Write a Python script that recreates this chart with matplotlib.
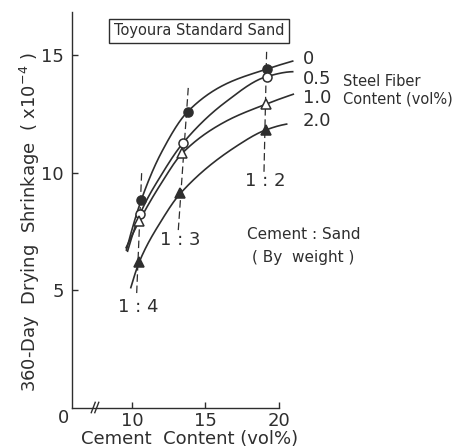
import numpy as np
import matplotlib
matplotlib.use("Agg")
import matplotlib.pyplot as plt

# ---- data ----
fiber_labels = ["0", "0.5", "1.0", "2.0"]
cement_0 = [10.63, 13.79, 19.16]
shrink_0 = [8.83, 12.59, 14.40]
cement_05 = [10.54, 13.49, 19.16]
shrink_05 = [8.22, 11.27, 14.08]
cement_10 = [10.50, 13.42, 19.12]
shrink_10 = [7.94, 10.82, 12.91]
cement_20 = [10.50, 13.29, 19.10]
shrink_20 = [6.20, 9.11, 11.81]

# hand-drawn trend curves (anchor points)
curve_x_0 = [9.62, 10.63, 12.00, 13.79, 16.33, 19.16, 20.93]
curve_y_0 = [6.70, 8.83, 10.85, 12.59, 13.75, 14.40, 14.74]
curve_x_05 = [9.70, 10.54, 12.00, 13.49, 16.33, 19.16, 20.93]
curve_y_05 = [6.65, 8.22, 9.90, 11.27, 12.98, 14.08, 14.29]
curve_x_10 = [9.60, 10.50, 12.00, 13.42, 16.33, 19.12, 20.97]
curve_y_10 = [6.80, 7.94, 9.55, 10.82, 12.16, 12.91, 13.33]
curve_x_20 = [9.92, 10.50, 12.00, 13.29, 17.23, 19.10, 20.52]
curve_y_20 = [5.10, 6.20, 7.95, 9.11, 11.17, 11.81, 12.06]

ratio_labels = ["1 : 4", "1 : 3", "1 : 2"]
ratio_x_top = [10.66, 13.83, 19.16]
ratio_y_top = [10.03, 13.62, 15.24]
ratio_x_bot = [10.32, 13.15, 18.98]
ratio_y_bot = [4.87, 7.55, 10.03]
ratio_label_x = [10.45, 13.25, 19.06]
ratio_label_y = [4.28, 7.13, 9.64]

x_ticks = [10, 15, 20]
y_ticks = [5, 10, 15]


def pchip(xs, ys, n=400):
    """Monotone cubic Hermite curve through the anchor points (Fritsch-Carlson)."""
    x = np.asarray(xs, float)
    y = np.asarray(ys, float)
    h = np.diff(x)
    d = np.diff(y) / h
    m = len(x)
    t = np.zeros(m)
    for k in range(1, m - 1):
        if d[k - 1] * d[k] <= 0:
            t[k] = 0
        else:
            w1 = 2 * h[k] + h[k - 1]
            w2 = h[k] + 2 * h[k - 1]
            t[k] = (w1 + w2) / (w1 / d[k - 1] + w2 / d[k])

    def end(h0, h1, d0, d1):
        v = ((2 * h0 + h1) * d0 - h0 * d1) / (h0 + h1)
        if np.sign(v) != np.sign(d0):
            v = 0
        elif np.sign(d0) != np.sign(d1) and abs(v) > abs(3 * d0):
            v = 3 * d0
        return v

    t[0] = end(h[0], h[1], d[0], d[1])
    t[-1] = end(h[-1], h[-2], d[-1], d[-2])
    xx = np.linspace(x[0], x[-1], n)
    i = np.clip(np.searchsorted(x, xx) - 1, 0, m - 2)
    s = (xx - x[i]) / h[i]
    h00 = 2 * s ** 3 - 3 * s ** 2 + 1
    h10 = s ** 3 - 2 * s ** 2 + s
    h01 = -2 * s ** 3 + 3 * s ** 2
    h11 = s ** 3 - s ** 2
    yy = h00 * y[i] + h10 * h[i] * t[i] + h01 * y[i + 1] + h11 * h[i] * t[i + 1]
    return xx, yy


ink = "#2e2e2e"
plt.rcParams["font.family"] = ["DejaVu Sans"]

fig = plt.figure(figsize=(4.65, 4.47), dpi=100)
x_left = 5.92
ax = fig.add_axes([72 / 465, (447 - 407.5) / 447, (279 - 72) / 465, (407.5 - 12) / 447])
ax.set_xlim(x_left, 20.0)
ax.set_ylim(0, 16.83)

for s in ["top", "right"]:
    ax.spines[s].set_visible(False)
for s in ["left", "bottom"]:
    ax.spines[s].set_color(ink)
    ax.spines[s].set_linewidth(1.0)

ax.set_xticks(x_ticks)
ax.set_yticks(y_ticks)
ax.tick_params(direction="in", length=4, width=1.0, color=ink, labelcolor=ink,
               labelsize=13)
ax.tick_params(axis="x", pad=3)
ax.tick_params(axis="y", pad=6)

# broken axis origin label and break mark
ax.text(x_left - 0.6, -0.45, "0", ha="center", va="center", fontsize=13, color=ink,
        clip_on=False)
for dx in (-0.12, 0.12):
    ax.plot([7.35 + dx, 7.62 + dx], [-0.22, 0.22], color=ink, lw=1.0, clip_on=False)

ax.set_xlabel("Cement  Content (vol%)", fontsize=13, color=ink)
ax.xaxis.set_label_coords((190 - 72) / 207, -(439 - 407.5) / 395.5)
ax.xaxis.label.set_va("center")
ax.set_ylabel("360-Day  Drying  Shrinkage  ( x10$^{-4}$ )", fontsize=13, color=ink)
ax.yaxis.set_label_coords((30 - 72) / 207, (407.5 - 222.5) / 395.5)
ax.yaxis.label.set_va("center")

# ratio dashed lines
for xt, yt, xb, yb, lab, lx, ly in zip(ratio_x_top, ratio_y_top, ratio_x_bot,
                                       ratio_y_bot, ratio_labels, ratio_label_x,
                                       ratio_label_y):
    ax.plot([xb, xt], [yb, yt], color=ink, lw=0.9, ls=(0, (6, 3)), zorder=1)
    ax.text(lx, ly, lab, ha="center", va="center", fontsize=13, color=ink)

curves = [(curve_x_0, curve_y_0), (curve_x_05, curve_y_05),
          (curve_x_10, curve_y_10), (curve_x_20, curve_y_20)]
for cx, cy in curves:
    xx, yy = pchip(cx, cy)
    ax.plot(xx, yy, color=ink, lw=1.2, clip_on=False, zorder=2)

points = [(cement_0, shrink_0, "o", ink), (cement_05, shrink_05, "o", "white"),
          (cement_10, shrink_10, "^", "white"), (cement_20, shrink_20, "^", ink)]
for px, py, mk, fc in points:
    ax.plot(px, py, ls="none", marker=mk, ms=6.5, mfc=fc, mec=ink, mew=1.1, zorder=3)

# series labels
label_y = [14.82, 13.97, 13.16, 12.20]
for lab, ly in zip(fiber_labels, label_y):
    ax.text(21.63, ly, lab, ha="left", va="center", fontsize=13, color=ink, clip_on=False)
ax.text(24.33, 13.86, "Steel Fiber", ha="left", va="center", fontsize=10.5, color=ink,
        clip_on=False)
ax.text(24.33, 13.11, "Content (vol%)", ha="left", va="center", fontsize=10.5, color=ink,
        clip_on=False)

ax.text(17.8, 7.37, "Cement : Sand", ha="left", va="center", fontsize=11, color=ink)
ax.text(18.15, 6.39, "( By  weight )", ha="left", va="center", fontsize=11, color=ink)

ax.text(14.56, 16.03, "Toyoura Standard Sand", ha="center", va="center", fontsize=10.5,
        color=ink, bbox=dict(boxstyle="square,pad=0.3", fc="white", ec=ink, lw=1.0))

fig.savefig("out.png", dpi=100, facecolor="white")
